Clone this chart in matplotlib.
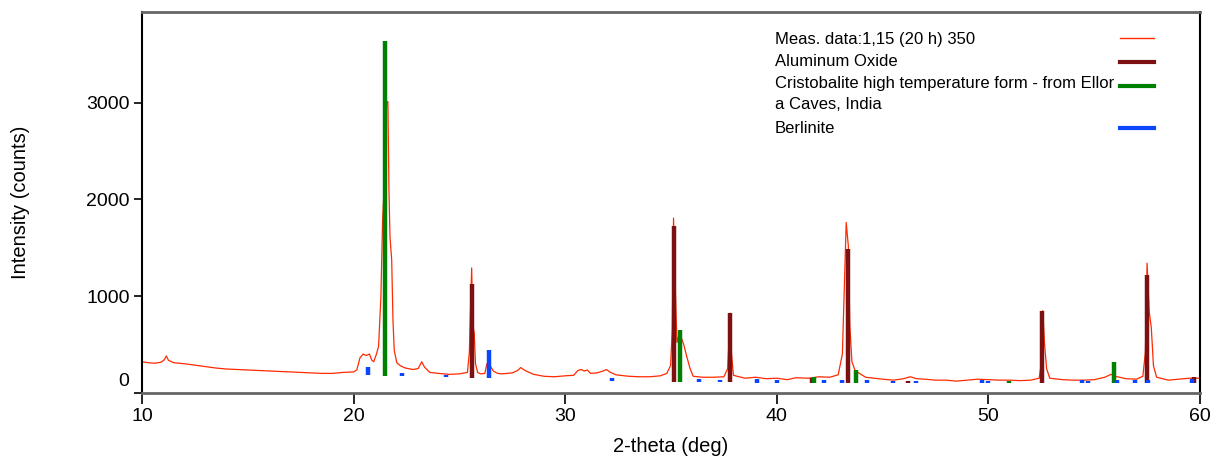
import matplotlib.pyplot as plt
import numpy as np
from matplotlib.transforms import ScaledTranslation

plt.rcParams['font.family'] = ['Liberation Sans', 'DejaVu Sans']

meas_2theta = [10.0, 10.3, 10.6, 10.9, 11.05, 11.15, 11.25, 11.5, 12.0, 12.5, 13.0, 13.5,
               14.0, 14.5, 15.0, 15.5, 16.0, 16.5, 17.0, 17.5, 18.0, 18.5, 19.0, 19.5,
               20.0, 20.15, 20.3, 20.45, 20.6, 20.75, 20.85, 20.95, 21.08, 21.18, 21.29,
               21.37, 21.46, 21.56, 21.62, 21.67, 21.72, 21.80, 21.86, 21.92, 22.04, 22.2,
               22.45, 22.8, 23.05, 23.22, 23.35, 23.6, 24.0, 24.5, 25.0, 25.38, 25.47,
               25.53, 25.58, 25.63, 25.70, 25.76, 25.86, 26.0, 26.2, 26.3, 26.45, 26.6,
               26.8, 27.0, 27.5, 27.75, 27.9, 28.1, 28.5, 29.0, 29.5, 30.0, 30.4, 30.6,
               30.75, 30.9, 31.05, 31.2, 31.5, 31.8, 31.95, 32.1, 32.4, 33.0, 33.5, 34.0,
               34.5, 34.8, 34.98, 35.06, 35.12, 35.2, 35.28, 35.38, 35.5, 35.6, 35.75,
               35.9, 36.05, 36.5, 37.0, 37.5, 37.68, 37.8, 37.86, 37.95, 38.5, 39.0, 39.5,
               40.0, 40.5, 40.9, 41.5, 42.0, 42.5, 42.9, 43.1, 43.28, 43.38, 43.45, 43.55,
               43.7, 43.9, 44.2, 44.6, 45.0, 45.5, 46.0, 46.3, 46.6, 47.0, 47.5, 48.0,
               48.5, 49.0, 49.5, 50.0, 50.5, 51.0, 51.5, 52.0, 52.4, 52.5, 52.57, 52.65,
               52.75, 52.9, 53.5, 54.0, 54.5, 55.0, 55.5, 55.8, 56.0, 56.5, 57.0, 57.3,
               57.42, 57.5, 57.6, 57.7, 57.8, 57.95, 58.5, 59.0, 59.5, 60.0]
meas_counts = [320, 310, 305, 315, 340, 380, 335, 310, 300, 285, 270, 255,
               245, 240, 235, 230, 225, 220, 215, 210, 205, 200, 200, 210,
               215, 235, 360, 400, 385, 400, 340, 320, 400, 480, 990,
               1785, 2200, 3010, 3010, 2100, 1610, 1370, 750, 440, 310, 280,
               255, 240, 250, 320, 265, 210, 200, 190, 195, 210, 420,
               900, 1290, 700, 620, 300, 210, 195, 200, 300, 280, 225,
               200, 195, 205, 230, 260, 230, 190, 170, 165, 175, 180, 230,
               240, 225, 235, 200, 205, 225, 240, 215, 185, 170, 165, 165,
               175, 200, 280, 650, 1806, 1100, 520, 600, 560, 500, 370,
               250, 170, 160, 160, 165, 250, 823, 400, 180, 150, 160, 145,
               150, 135, 155, 150, 165, 160, 185, 400, 1760, 1520, 700, 320,
               230, 200, 160, 150, 140, 130, 145, 165, 145, 140, 130, 130,
               120, 130, 140, 135, 130, 130, 125, 130, 150, 300, 850, 515,
               250, 150, 135, 130, 130, 135, 160, 190, 170, 145, 140, 170,
               420, 1340, 840, 670, 280, 160, 130, 140, 150, 150]

# reference patterns: peak positions and stick heights above the base
al2o3_pos = [25.58, 35.15, 37.78, 41.68, 43.36, 46.18, 52.55, 57.50, 59.74]
al2o3_h = [970, 1616, 716, 50, 1387, 25, 748, 1115, 65]
crist_pos = [21.48, 35.43, 41.76, 43.74, 50.97, 55.95]
crist_h = [3459, 540, 60, 133, 25, 220]
berl_pos = [20.68, 22.29, 24.37, 26.41, 32.2, 36.34, 37.32, 39.05, 40.02, 42.23, 43.07,
            44.25, 45.5, 46.58, 49.68, 50.0, 54.41, 54.71, 56.09, 56.93, 57.56, 59.6]
berl_h = [82, 30, 25, 288, 30, 35, 30, 35, 30, 30, 25,
          30, 25, 25, 35, 25, 30, 25, 30, 30, 30, 40]

# level the sticks start from
base_2theta = [10, 20, 26, 30, 35, 45, 60]
base_counts = [200, 185, 155, 130, 108, 100, 100]

red = '#ff2a00'
brown = '#7d1010'
green = '#008000'
blue = '#0a46ff'

fig = plt.figure(figsize=(12.19, 4.59), dpi=100)
ax = fig.add_axes([0.1165, 0.1444, 0.8679, 0.8295])

ax.plot(meas_2theta, meas_counts, color=red, lw=0.9, zorder=2)

for pos, h, col, z in [(al2o3_pos, al2o3_h, brown, 3),
                       (crist_pos, crist_h, green, 4),
                       (berl_pos, berl_h, blue, 5)]:
    base = np.interp(pos, base_2theta, base_counts)
    ax.vlines(pos, base, base + np.array(h), colors=col, lw=3.2, zorder=z)

ax.set_xlim(10, 60)
ax.set_ylim(0, 3937)
ax.set_xticks([10, 20, 30, 40, 50, 60])
ax.set_yticks([0, 1000, 2000, 3000])
ax.tick_params(direction='out', length=6, width=1.2, labelsize=14, pad=3)
ax.tick_params(axis='x', length=8)

for side in ['left', 'right']:
    ax.spines[side].set_color('black')
    ax.spines[side].set_linewidth(1.5)
for side in ['top', 'bottom']:
    ax.spines[side].set_color('#666666')
    ax.spines[side].set_linewidth(2)

# the "0" label sits a bit above the axis
for lab in ax.get_yticklabels():
    if lab.get_text() == '0':
        lab.set_transform(lab.get_transform() + ScaledTranslation(0, 0.13, fig.dpi_scale_trans))

ax.set_xlabel('2-theta (deg)', fontsize=14.5, labelpad=9)
ax.set_ylabel('Intensity (counts)', fontsize=14.5, labelpad=40)

# legend, text on the left and line on the right
tx = 0.598
lx = [0.924, 0.957]
fs = 12
ax.text(tx, 0.929, 'Meas. data:1,15 (20 h) 350', transform=ax.transAxes, fontsize=fs, va='center')
ax.plot(lx, [0.932, 0.932], transform=ax.transAxes, color=red, lw=1)
ax.text(tx, 0.871, 'Aluminum Oxide', transform=ax.transAxes, fontsize=fs, va='center')
ax.plot(lx, [0.868, 0.868], transform=ax.transAxes, color=brown, lw=3)
ax.text(tx, 0.811, 'Cristobalite high temperature form - from Ellor', transform=ax.transAxes,
        fontsize=fs, va='center')
ax.text(tx, 0.756, 'a Caves, India', transform=ax.transAxes, fontsize=fs, va='center')
ax.plot(lx, [0.805, 0.805], transform=ax.transAxes, color=green, lw=3)
ax.text(tx, 0.695, 'Berlinite', transform=ax.transAxes, fontsize=fs, va='center')
ax.plot(lx, [0.695, 0.695], transform=ax.transAxes, color=blue, lw=3)

fig.savefig('out.png', dpi=100)
